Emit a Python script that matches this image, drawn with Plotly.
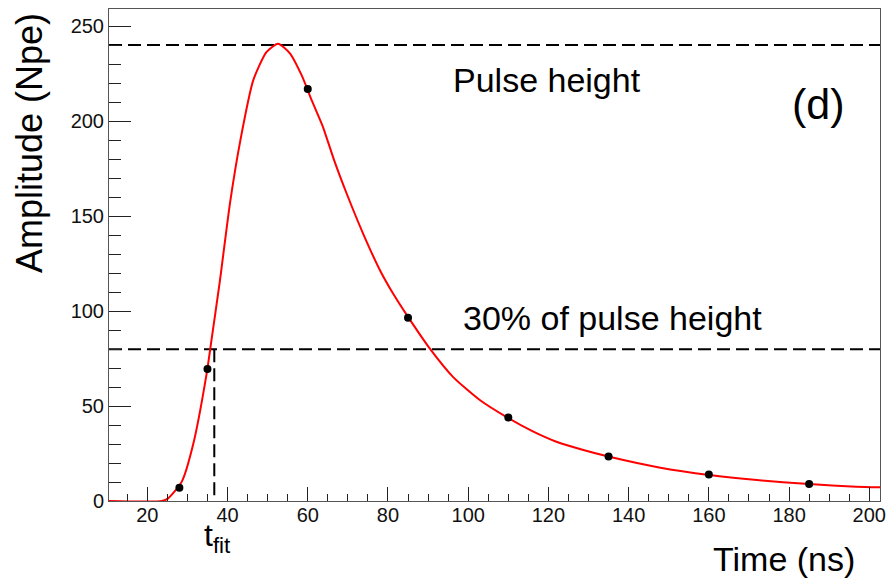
import plotly.graph_objects as go

# Measured data points (Time ns, Amplitude Npe)
point_t = [28, 35, 60, 85, 110, 135, 160, 185]
point_a = [7, 69.5, 217, 96.5, 44, 23.5, 14, 9]

# Fit curve
curve_t = [10.45, 23.6, 25.2, 28.6, 31.5, 34.8, 36.0, 38.1, 40.6, 43.2, 46.4, 49.7, 52.6,
           55.5, 58.5, 61.0, 63.8, 66.5, 69.7, 73.8, 78.0, 81.5, 85.0, 90.4, 96.2, 102.9, 109.9,
           116.0, 122.0, 128.5, 135.2, 147.6, 160.1, 172.0, 185.0, 196.7, 202.67]
curve_a = [0, 0, 1.4, 10.2, 30.4, 67.2, 84.7, 116, 156.7, 190, 221.6, 236.5, 240.9,
           236, 224.2, 211, 197, 180, 162, 140.9, 121.6, 108.5, 97, 80.4, 65.4, 53.2, 43.8,
           36.8, 31.2, 27.0, 23.3, 17.7, 13.7, 11.0, 8.9, 7.5, 7.2]

pulse_height = 240.2
threshold = 79.9
t_fit = 36.7

x_range = [10.45, 202.67]
y_range = [0, 259.2]

FONT = "Liberation Sans, Arial, sans-serif"
DASH = "13px,6px"

fig = go.Figure()

fig.add_trace(go.Scatter(x=x_range, y=[pulse_height, pulse_height], mode="lines",
                         line=dict(color="black", width=2, dash=DASH), hoverinfo="skip"))
fig.add_trace(go.Scatter(x=x_range, y=[threshold, threshold], mode="lines",
                         line=dict(color="black", width=2, dash=DASH), hoverinfo="skip"))
fig.add_trace(go.Scatter(x=[t_fit, t_fit], y=[threshold, 0], mode="lines",
                         line=dict(color="black", width=2, dash=DASH), hoverinfo="skip"))
fig.add_trace(go.Scatter(x=curve_t, y=curve_a, mode="lines",
                         line=dict(color="#ff0000", width=2, shape="spline", smoothing=0.6),
                         hoverinfo="skip"))
fig.add_trace(go.Scatter(x=point_t, y=point_a, mode="markers",
                         marker=dict(color="black", size=8), hoverinfo="skip"))

fig.update_layout(
    width=887, height=578,
    margin=dict(l=109, r=7, t=9, b=77, autoexpand=False),
    paper_bgcolor="white", plot_bgcolor="white",
    showlegend=False,
    font=dict(family=FONT, color="black"),
    xaxis=dict(range=x_range, tick0=0, dtick=20, ticks="inside", ticklen=14,
               tickwidth=1, tickcolor="#222", showgrid=False, zeroline=False,
               showline=True, linecolor="#555", linewidth=1, mirror=True, automargin=False,
               ticklabelstandoff=-4,
               tickfont=dict(size=20, family=FONT, color="#111"),
               minor=dict(dtick=5, tick0=0, ticks="inside", ticklen=7, tickcolor="#222", showgrid=False)),
    yaxis=dict(range=y_range, tick0=0, dtick=50, ticks="inside", ticklen=22,
               tickwidth=1, tickcolor="#222", showgrid=False, zeroline=False,
               showline=True, linecolor="#555", linewidth=1, mirror=True, automargin=False,
               tickfont=dict(size=20, family=FONT, color="#111"),
               minor=dict(dtick=10, tick0=0, ticks="inside", ticklen=12, tickcolor="#222", showgrid=False)),
)

def px_x(px):
    return (px - 109) / 771.0

def px_y(py):
    return (501 - py) / 492.0

annots = [
    dict(text="Pulse height", x=px_x(451), y=px_y(80), size=34, xanchor="left"),
    dict(text="30% of pulse height", x=px_x(461), y=px_y(318), size=34, xanchor="left"),
    dict(text="(d)", x=px_x(790), y=px_y(104), size=43, xanchor="left"),
    dict(text="Time (ns)", x=px_x(711), y=px_y(559), size=34, xanchor="left"),
    dict(text="t<sub>fit</sub>", x=px_x(202), y=px_y(537), size=32, xanchor="left"),
]
for a in annots:
    fig.add_annotation(text=a["text"], x=a["x"], y=a["y"], xref="paper", yref="paper",
                       xanchor=a["xanchor"], yanchor="middle", showarrow=False,
                       font=dict(size=a["size"], family=FONT, color="black"))

fig.add_annotation(text="Amplitude (Npe)", x=px_x(29), y=px_y(143), xref="paper", yref="paper",
                   xanchor="center", yanchor="middle", textangle=-90, showarrow=False,
                   font=dict(size=36, family=FONT, color="black"))

fig.write_html("out.html")
